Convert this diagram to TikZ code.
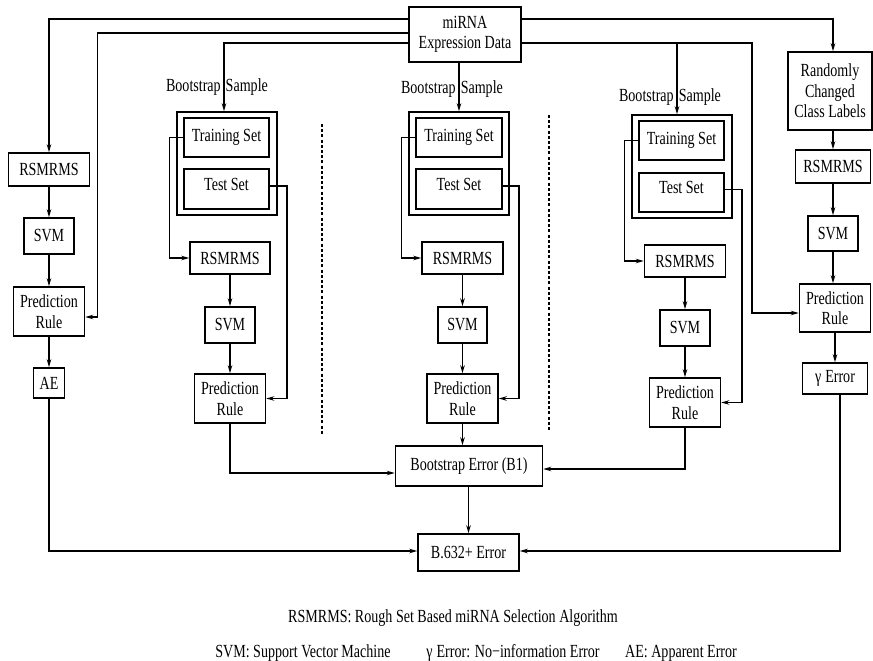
\documentclass[tikz,border=0pt]{standalone}
\usepackage{fontspec}
\setmainfont{Liberation Serif}[FakeStretch=0.76]
\usetikzlibrary{arrows.meta}
\begin{document}
\begin{tikzpicture}[
        x=1pt, y=-1pt,
        font=\fontsize{18.5}{20.5}\selectfont,
        box/.style={draw, line width=1.5pt, inner sep=0pt, align=center},
        arr/.style={-{Stealth[length=8pt, width=4.5pt]}, line width=1.5pt},
        sep/.style={line width=1.2pt, dash pattern=on 3pt off 2.2pt}
    ]
    \useasboundingbox (0,0) rectangle (873,661);
    % Datos de partida
    \node[box, minimum width=112, minimum height=55] (data) at (465,34.5) {miRNA\\Expression Data};
    % Columna izquierda: error aparente
    \node[box, minimum width=81, minimum height=33] (rs0) at (49,169.5) {RSMRMS};
    \node[box, minimum width=50, minimum height=36] (svm0) at (49,236) {SVM};
    \node[box, minimum width=71, minimum height=49] (pr0) at (49,311.5) {Prediction\\Rule};
    \node[box, minimum width=31, minimum height=30] (ae) at (49,383) {AE};
    % Primera muestra bootstrap
    \node (lbla) at (217,87) {Bootstrap\hspace{5pt}Sample};
    \node[box, minimum width=100, minimum height=103] (boxa) at (227,163.5) {};
    \node[box, minimum width=85, minimum height=39] (tra) at (226.5,137.5) {Training Set};
    \node[box, minimum width=85, minimum height=40, text depth=10pt] (tea) at (226.5,189) {Test Set};
    \node[box, minimum width=80, minimum height=32] (rsa) at (230,258) {RSMRMS};
    \node[box, minimum width=50, minimum height=36] (svma) at (230,325) {SVM};
    \node[box, minimum width=71, minimum height=49] (pra) at (230,398.5) {Prediction\\Rule};
    % Segunda muestra bootstrap
    \node (lblb) at (452,89) {Bootstrap\hspace{5pt}Sample};
    \node[box, minimum width=100, minimum height=103] (boxb) at (459,163.5) {};
    \node[box, minimum width=86, minimum height=39] (trb) at (459,137.5) {Training Set};
    \node[box, minimum width=86, minimum height=40, text depth=10pt] (teb) at (459,189) {Test Set};
    \node[box, minimum width=81, minimum height=32] (rsb) at (462.5,258) {RSMRMS};
    \node[box, minimum width=49, minimum height=36] (svmb) at (462.5,325) {SVM};
    \node[box, minimum width=71, minimum height=49] (prb) at (462.5,398.5) {Prediction\\Rule};
    % Tercera muestra bootstrap
    \node (lblc) at (670,97) {Bootstrap\hspace{5pt}Sample};
    \node[box, minimum width=100, minimum height=103] (boxc) at (682,166.5) {};
    \node[box, minimum width=85, minimum height=39] (trc) at (681.5,140.5) {Training Set};
    \node[box, minimum width=85, minimum height=39, text depth=10pt] (tec) at (681.5,192.5) {Test Set};
    \node[box, minimum width=81, minimum height=32] (rsc) at (685,261) {RSMRMS};
    \node[box, minimum width=50, minimum height=36] (svmc) at (685,328) {SVM};
    \node[box, minimum width=71, minimum height=49] (prc) at (685,402.5) {Prediction\\Rule};
    % Columna derecha: error sin informacion
    \node[box, minimum width=84, minimum height=78] (rand) at (830,91) {Randomly\\Changed\\Class Labels};
    \node[box, minimum width=75, minimum height=33] (rsd) at (833,166.5) {RSMRMS};
    \node[box, minimum width=50, minimum height=35] (svmd) at (833,233.5) {SVM};
    \node[box, minimum width=71, minimum height=48] (prd) at (835,308) {Prediction\\Rule};
    \node[box, minimum width=65, minimum height=31] (gam) at (835,378.5) {γ\hspace{4pt}Error};
    % Errores combinados
    \node[box, minimum width=147, minimum height=40] (b1) at (469,466) {Bootstrap Error (B1)};
    \node[box, minimum width=101, minimum height=37] (b632) at (468.5,552.5) {B.632+ Error};
    % Leyenda
    \node (leg1) at (453,618) {RSMRMS: Rough Set Based miRNA Selection Algorithm};
    \node (leg2) at (303,653) {SVM: Support Vector Machine};
    \node (leg3) at (513,653) {γ\hspace{4pt}Error: No−information Error};
    \node (leg4) at (681,653) {AE: Apparent Error};
    % Separadores
    \draw[sep] (322,124) -- (322,435);
    \draw[sep] (549,115) -- (549,430);
    % Conexiones desde los datos
    \draw[arr] ([yshift=15.5pt]data.west) -| (rs0.north);
    \draw[arr] ([yshift=1.5pt]data.west) -| ([xshift=12pt, yshift=-5.5pt]pr0.east) -- ([yshift=-5.5pt]pr0.east);
    \draw[arr] ([yshift=-8.5pt]data.west) -| ([xshift=-3pt]boxa.north);
    \draw[arr] (data.south -| boxb.north) -- (boxb.north);
    \draw[arr] ([yshift=-8.5pt]data.east) -| ([xshift=-5pt]boxc.north);
    \draw[arr] ([yshift=-8.5pt]data.east) -| ([xshift=-47pt, yshift=-5pt]prd.west) -- ([yshift=-5pt]prd.west);
    \draw[arr] ([yshift=15.5pt]data.east) -| ([xshift=3pt]rand.north);
    % Columna izquierda
    \draw[arr] (rs0) -- (svm0);
    \draw[arr] (svm0) -- (pr0);
    \draw[arr] (pr0) -- (ae);
    % Muestras bootstrap
    \draw[arr] (tra.west) -- ++(-14pt,0) |- (rsa.west);
    \draw[arr] ([yshift=3pt]tea.east) -- ++(17pt,0) |- (pra.east);
    \draw[arr] (rsa) -- (svma);
    \draw[arr] (svma) -- (pra);
    \draw[arr] (trb.west) -- ++(-14pt,0) |- (rsb.west);
    \draw[arr] ([yshift=3pt]teb.east) -- ++(16pt,0) |- (prb.east);
    \draw[arr] (rsb) -- (svmb);
    \draw[arr] (svmb) -- (prb);
    \draw[arr] (trc.west) -- ++(-14pt,0) |- (rsc.west);
    \draw[arr] ([yshift=3pt]tec.east) -- ++(17pt,0) |- (prc.east);
    \draw[arr] (rsc) -- (svmc);
    \draw[arr] (svmc) -- (prc);
    % Columna derecha
    \draw[arr] (rsd.north |- rand.south) -- (rsd.north);
    \draw[arr] (rsd) -- (svmd);
    \draw[arr] (svmd.south) -- (svmd.south |- prd.north);
    \draw[arr] (prd) -- (gam);
    % Hacia los errores
    \draw[arr] (pra.south) |- ([yshift=-7pt]b1.west);
    \draw[arr] (prb.south) -- (prb.south |- b1.north);
    \draw[arr] (prc.south) |- ([yshift=-3pt]b1.east);
    \draw[arr] (b1.south -| b632.north) -- (b632.north);
    \draw[arr] (ae.south) |- ([yshift=1.5pt]b632.west);
    \draw[arr] ([xshift=5pt]gam.south) |- ([yshift=1.5pt]b632.east);
    \end{tikzpicture}
\end{document}
